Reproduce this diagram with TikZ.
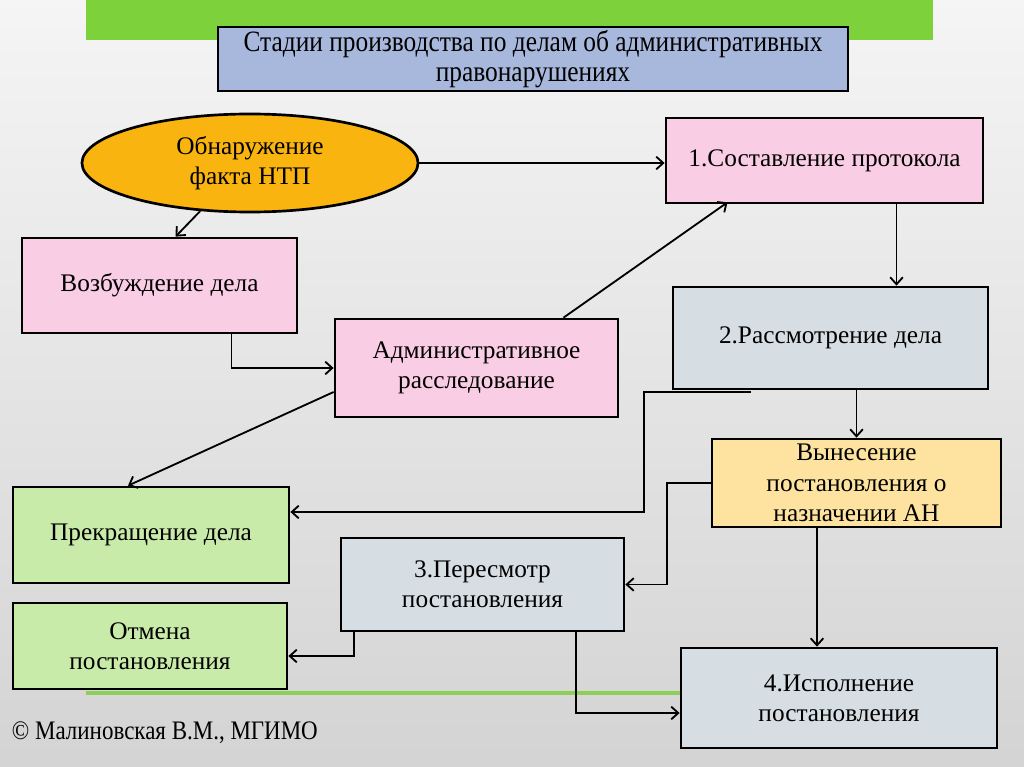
\documentclass[tikz,border=0pt]{standalone}
\usepackage{fontspec}
\setmainfont{Liberation Serif}
\newfontfamily\narrowfont{Liberation Serif}[FakeStretch=0.86]
\usetikzlibrary{shapes.geometric,arrows.meta,calc}
\definecolor{bargreen}{RGB}{125,210,60}
\definecolor{linegreen}{RGB}{140,208,90}
\definecolor{titleblue}{RGB}{168,184,220}
\definecolor{ovalorange}{RGB}{249,180,16}
\definecolor{boxpink}{RGB}{249,205,228}
\definecolor{boxgray}{RGB}{215,222,227}
\definecolor{boxyellow}{RGB}{253,227,159}
\definecolor{boxgreen}{RGB}{201,235,169}
\begin{document}
\begin{tikzpicture}[x=0.025cm,y=-0.025cm,
    font=\fontsize{18}{21.6}\selectfont,
    box/.style={rectangle,draw=black,line width=1.9pt,align=center,inner sep=2pt},
    conn/.style={->,line width=1.3pt},
    >={Straight Barb[length=5pt,width=9pt]}]

      \useasboundingbox (0,0) rectangle (1024,767);
      \shade[top color=white!96!black,bottom color=white!83!black] (0,0) rectangle (1024,767);
      \fill[bargreen] (86,0) rectangle (933,40);
      \draw[linegreen,line width=2.8pt] (86,693) -- (690,693);

      \node[box,fill=titleblue,minimum width=15.75cm,minimum height=1.6cm,font=\narrowfont\fontsize{21}{21.5}\selectfont] (title) at (533,59){Стадии производства по делам об административных\\правонарушениях};
      \node[ellipse,draw=black,line width=1.9pt,fill=ovalorange,minimum width=8.4cm,minimum height=2.45cm,align=center] (detect) at (250,163){Обнаружение\\факта НТП};
      \node[box,fill=boxpink,minimum width=7.925cm,minimum height=2.125cm] (protocol) at (824.5,160.5){1.Составление протокола};
      \node[box,fill=boxpink,minimum width=6.875cm,minimum height=2.375cm] (initiate) at (159.5,285.5){Возбуждение дела};
      \node[box,fill=boxpink,minimum width=7.075cm,minimum height=2.45cm] (investig) at (476.5,368){Административное\\расследование};
      \node[box,fill=boxgray,minimum width=7.875cm,minimum height=2.55cm] (review) at (830.5,338){2.Рассмотрение дела};
      \node[box,fill=boxyellow,minimum width=7.225cm,minimum height=2.2cm,inner sep=0pt] (ruling) at (856.5,483){Вынесение\\постановления о\\назначении АН};
      \node[box,fill=boxgreen,minimum width=6.9cm,minimum height=2.4cm] (stop) at (151,535){Прекращение дела};
      \node[box,fill=boxgray,minimum width=7.075cm,minimum height=2.325cm] (revise) at (482.5,584.5){3.Пересмотр\\постановления};
      \node[box,fill=boxgreen,minimum width=6.85cm,minimum height=2.15cm] (cancel) at (150,646){Отмена\\постановления};
      \node[box,fill=boxgray,minimum width=7.9cm,minimum height=2.5cm] (execute) at (839,698){4.Исполнение\\постановления};
      \node[anchor=west,font=\narrowfont\fontsize{19}{21.6}\selectfont] (author) at (7,733){© Малиновская В.М., МГИМО};

      \draw[conn] (detect.east) -- (detect.east -| protocol.west);
      \draw[conn] (detect.224) -- ($(initiate.north)+(16,0)$);
      \draw[conn] ($(initiate.south)+(72,0)$) |- (investig.west);
      \draw[conn] ($(investig.north)+(87,0)$) -- ($(protocol.south)+(-97,-2)$);
      \draw[conn] ($(investig.west)+(0,24)$) -- ($(stop.north)+(-23,0)$);
      \draw[conn] ($(protocol.south)+(72,0)$) coordinate (p1) -- (p1 |- review.north);
      \draw[conn] ($(review.south west)+(79,2)$) -- ++(-107,0) |- ($(stop.east)+(0,-23)$);
      \draw[conn] (ruling.north |- review.south) -- (ruling.north);
      \draw[conn] (ruling.west) -- ++(-44,0) |- (revise.east);
      \draw[conn] ($(ruling.south)+(-39.5,0)$) coordinate (p2) -- (p2 |- execute.north);
      \draw[conn] ($(revise.south west)+(14,0)$) |- ($(cancel.east)+(0,10)$);
      \draw[conn] ($(revise.south)+(93.5,0)$) |- ($(execute.west)+(0,15)$);

    \end{tikzpicture}
\end{document}
